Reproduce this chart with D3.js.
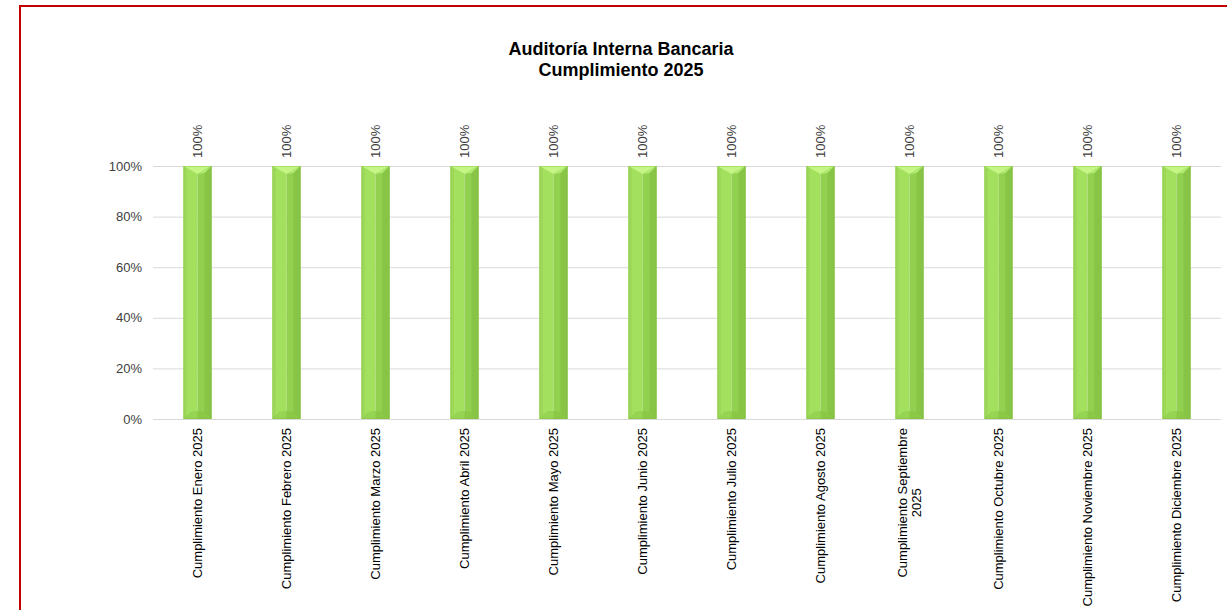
<!DOCTYPE html>
<html><head><meta charset="utf-8">
<script src="https://cdn.jsdelivr.net/npm/d3@7"></script>
<style>
html,body{margin:0;padding:0;background:#fff;}
svg{display:block;font-family:"Liberation Sans",Arial,sans-serif;}
</style></head>
<body>
<svg id="chart" width="1227" height="610"></svg>
<script>
const categories = ["Cumplimiento Enero 2025","Cumplimiento Febrero 2025","Cumplimiento Marzo 2025","Cumplimiento Abril 2025","Cumplimiento Mayo 2025","Cumplimiento Junio 2025","Cumplimiento Julio 2025","Cumplimiento Agosto 2025","Cumplimiento Septiembre 2025","Cumplimiento Octubre 2025","Cumplimiento Noviembre 2025","Cumplimiento Diciembre 2025"];
const values = [1,1,1,1,1,1,1,1,1,1,1,1];
const yTicks = [0,0.2,0.4,0.6,0.8,1.0];
const titleLines = ["Auditoría Interna Bancaria","Cumplimiento 2025"];

const svg = d3.select("#chart");
// frame
svg.append("rect").attr("x",20).attr("y",6).attr("width",1240).attr("height",640)
  .attr("fill","#fff").attr("stroke","#c00000").attr("stroke-width",2);

const plot = {left:153, right:1221, top:166, bottom:419};
const x = d3.scaleBand().domain(categories).range([plot.left,plot.right]).paddingInner(0.685).paddingOuter(0.3425);
const y = d3.scaleLinear().domain([0,1]).range([plot.bottom,plot.top]);

// gridlines
svg.append("g").selectAll("line").data(yTicks).join("line")
  .attr("x1",plot.left).attr("x2",plot.right)
  .attr("y1",d=>y(d)+0.5).attr("y2",d=>y(d)+0.5)
  .attr("stroke","#d9d9d9").attr("stroke-width",1);

// y axis labels
const yAxis = d3.axisLeft(y).tickValues(yTicks).tickFormat(d3.format(".0%")).tickSize(0).tickPadding(11);
const ga = svg.append("g").attr("transform",`translate(${plot.left},0)`).call(yAxis);
ga.select(".domain").remove();
ga.selectAll("text").attr("font-size",13).attr("fill","#404040").attr("font-family","Liberation Sans, Arial, sans-serif");

// bars
const bw = x.bandwidth();
const bars = svg.append("g").selectAll("g").data(categories).join("g");
const bev = 7;
bars.each(function(c,i){
  const g = d3.select(this);
  const x0 = x(c), x1 = x0 + bw, xm = x0 + bw/2;
  const yt = y(values[i]), yb = y(0);
  g.append("rect").attr("x",x0).attr("y",yt).attr("width",bw/2).attr("height",yb-yt).attr("fill","#a3e05e");
  g.append("rect").attr("x",xm).attr("y",yt).attr("width",bw/2).attr("height",yb-yt).attr("fill","#92d050");
  g.append("rect").attr("x",x1-bev).attr("y",yt).attr("width",bev).attr("height",yb-yt).attr("fill","#88c446");
  g.append("rect").attr("x",x0).attr("y",yt).attr("width",bev/2).attr("height",yb-yt).attr("fill","#9ed85a");
  g.append("polygon").attr("points",`${x0},${yt} ${x1},${yt} ${xm},${yt+bev+1}`).attr("fill","#c4f585");
  g.append("polygon").attr("points",`${xm},${yt+bev+1} ${x1},${yt} ${x1-bev},${yt+bev}`).attr("fill","#b0ea70");
  g.append("polygon").attr("points",`${x0},${yb} ${x0+bev},${yb-bev} ${xm},${yb-bev-1} ${x1-bev},${yb-bev} ${x1},${yb}`).attr("fill","#8ac846");
  g.append("polygon").attr("points",`${x0},${yb} ${x0+bev},${yb-bev} ${xm},${yb-bev-1} ${xm},${yb}`).attr("fill","#96d453");
  g.append("rect").attr("x",x0+0.5).attr("y",yt+0.5).attr("width",bw-1).attr("height",yb-yt-1)
    .attr("fill","none").attr("stroke","#7fb83f").attr("stroke-width",0.6).attr("opacity",0.6);
});

// data labels
svg.append("g").selectAll("text").data(categories).join("text")
  .attr("transform",(c,i)=>`translate(${x(c)+bw/2+4},${y(values[i])-8}) rotate(-90)`)
  .attr("text-anchor","start").attr("font-size",13).attr("fill","#404040")
  .text((c,i)=>d3.format(".0%")(values[i]));

// category labels
const maxChars = 27;
const labTop = plot.bottom + 9;
const cl = svg.append("g").selectAll("text").data(categories).join("text")
  .attr("font-size",13).attr("fill","#000");
cl.each(function(c){
  const t = d3.select(this);
  const cx = x(c)+bw/2;
  if (c.length > maxChars) {
    const k = c.lastIndexOf(" ");
    const parts = [c.slice(0,k), c.slice(k+1)];
    t.attr("text-anchor","middle");
    const s1 = t.append("tspan").attr("x",0).attr("dy",0).text(parts[0]);
    const len = s1.node().getComputedTextLength();
    t.append("tspan").attr("x",0).attr("dy",14).text(parts[1]);
    t.attr("transform", `translate(${cx-3},${labTop+len/2}) rotate(-90)`);
  } else {
    t.attr("text-anchor","end").attr("transform",`translate(${cx+4},${labTop}) rotate(-90)`).text(c);
  }
});

// title
const tt = svg.append("text").attr("x",621).attr("y",55).attr("text-anchor","middle")
  .attr("font-size",18).attr("font-weight","bold").attr("fill","#000");
titleLines.forEach((l,i)=>tt.append("tspan").attr("x",621).attr("dy",i?21:0).text(l));
</script>
</body></html>
